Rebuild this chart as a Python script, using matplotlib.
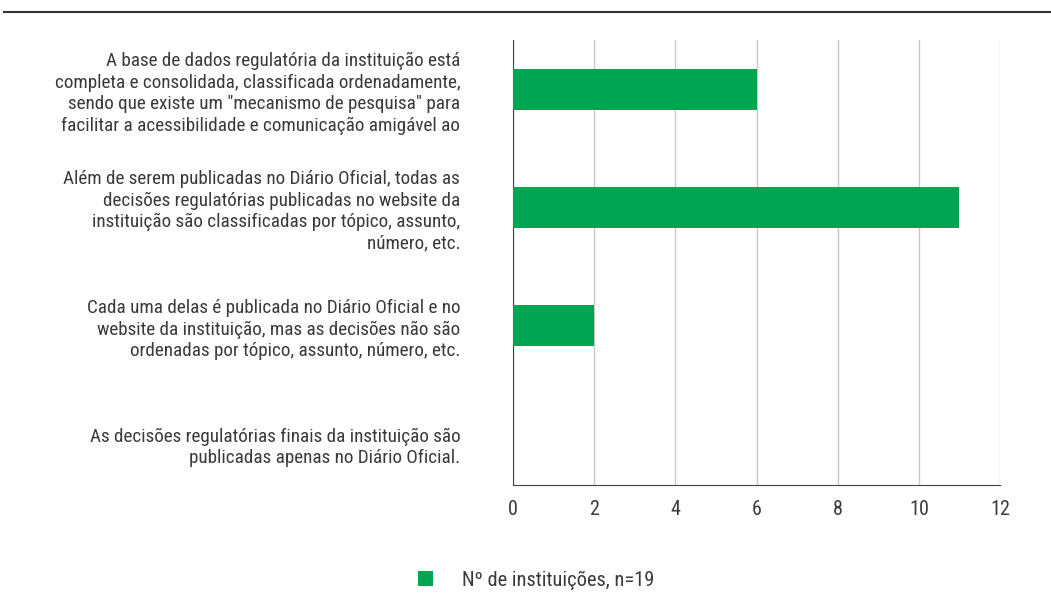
import matplotlib.pyplot as plt
from matplotlib.patches import Patch
from matplotlib.lines import Line2D

# Categories (top to bottom) and values
categories = [
    'A base de dados regulatória da instituição está\n'
    'completa e consolidada, classificada ordenadamente,\n'
    'sendo que existe um "mecanismo de pesquisa" para\n'
    'facilitar a acessibilidade e comunicação amigável ao',
    'Além de serem publicadas no Diário Oficial, todas as\n'
    'decisões regulatórias publicadas no website da\n'
    'instituição são classificadas por tópico, assunto,\n'
    'número, etc.',
    'Cada uma delas é publicada no Diário Oficial e no\n'
    'website da instituição, mas as decisões não são\n'
    'ordenadas por tópico, assunto, número, etc.',
    'As decisões regulatórias finais da instituição são\n'
    'publicadas apenas no Diário Oficial.',
]
values = [6, 11, 2, 0]
x_ticks = [0, 2, 4, 6, 8, 10, 12]
legend_label = 'Nº de instituições, n=19'

green = '#00A551'
text_color = '#3a3a3a'

plt.rcParams['font.family'] = ['Roboto Condensed', 'DejaVu Sans']

fig = plt.figure(figsize=(10.51, 6.04), dpi=100)
ax = fig.add_axes([513 / 1051, 1 - 485 / 604, 487 / 1051, 445 / 604])

pos = list(range(len(categories)))
ax.barh(pos, values, height=0.35, color=green, zorder=3)

ax.set_xlim(0, 12)
ax.set_ylim(3.35, -0.42)
ax.set_xticks(x_ticks)
ax.set_xticklabels([str(t) for t in x_ticks], fontsize=14.5, color=text_color)
ax.set_yticks(pos)
ax.set_yticklabels(categories, fontsize=13.8, color=text_color,
                   linespacing=1.25, ha='right')
ax.tick_params(axis='y', length=0, pad=38)
ax.tick_params(axis='x', length=0, pad=11)

ax.grid(axis='x', color='#c8c8c8', linewidth=1, zorder=0)
for side in ['top', 'right']:
    ax.spines[side].set_visible(False)
ax.spines['left'].set_color('#444444')
ax.spines['bottom'].set_color('#444444')

# Top rule across the figure
fig.add_artist(Line2D([4 / 1051, 1], [1 - 12 / 604, 1 - 12 / 604],
                      color='#333333', linewidth=1.5))

handle = Patch(facecolor=green, edgecolor='none')
fig.legend([handle], [legend_label], loc='center', bbox_to_anchor=(0.51, 1 - 580 / 604),
           frameon=False, fontsize=14.7, handlelength=0.75, handleheight=0.75,
           handletextpad=1.4, labelcolor=text_color)

fig.savefig('out.png', dpi=100)
